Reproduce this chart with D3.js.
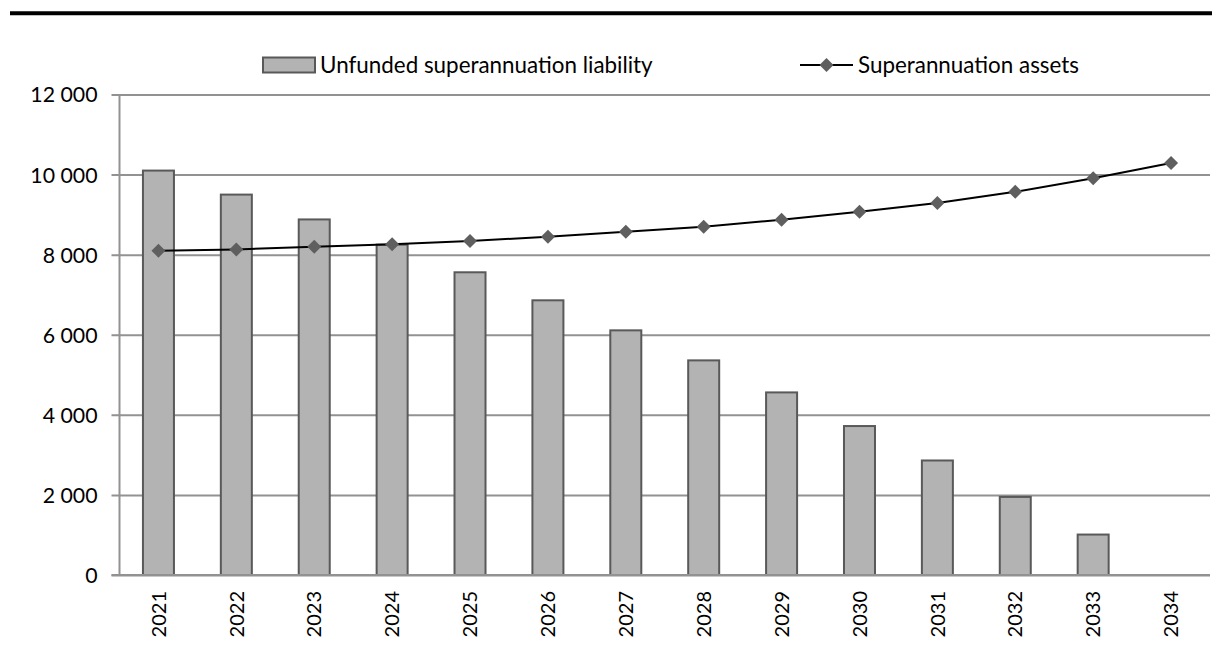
<!DOCTYPE html>
<html>
<head>
<meta charset="utf-8">
<script src="https://cdn.jsdelivr.net/npm/d3@7/dist/d3.min.js"></script>
<style>
  html, body { margin: 0; padding: 0; background: #fff; }
  svg { display: block; }
  text { font-family: Lato, "Open Sans", "DejaVu Sans", sans-serif; fill: #000; }
</style>
</head>
<body>
<svg id="chart" width="1212" height="659"></svg>
<script>
// Chart data
const years = ["2021", "2022", "2023", "2024", "2025", "2026", "2027",
               "2028", "2029", "2030", "2031", "2032", "2033", "2034"];
const unfundedLiability = [10100, 9500, 8880, 8250, 7560, 6860, 6110,
                           5360, 4560, 3720, 2860, 1950, 1010, 0];
const superAssets = [8100, 8130, 8200, 8260, 8340, 8450, 8570,
                     8700, 8870, 9070, 9290, 9570, 9910, 10290];
const yTicks = [0, 2000, 4000, 6000, 8000, 10000, 12000];
const seriesNames = ["Unfunded superannuation liability", "Superannuation assets"];

const svg = d3.select("#chart");
const plotLeft = 119.5, plotRight = 1210, plotTop = 94.5, plotBottom = 575;

// Header rule
svg.append("line")
  .attr("x1", 10).attr("x2", 1212)
  .attr("y1", 13.3).attr("y2", 13.3)
  .attr("stroke", "#000").attr("stroke-width", 4);

const xc = d3.scaleBand().domain(years).range([plotLeft, plotRight]);
const y = d3.scaleLinear().domain([0, 12000]).range([plotBottom, plotTop]);

// Gridlines with y ticks
const yAxis = d3.axisLeft(y).tickValues(yTicks).tickSize(-(plotRight - plotLeft)).tickSizeOuter(0)
  .tickFormat(v => d3.format(",")(v).replace(/,/g, " "));
const gy = svg.append("g").attr("transform", `translate(${plotLeft},0)`).call(yAxis);
gy.select(".domain").remove();
gy.selectAll(".tick line")
  .attr("x1", -8)
  .attr("stroke", "#929292").attr("stroke-width", 2);
gy.selectAll(".tick text")
  .attr("x", -22).attr("dy", "0.35em")
  .style("font-size", "21.3px")
  .style("font-family", "Lato, 'Open Sans', sans-serif")
  .attr("fill", "#000");

// Vertical axis line
svg.append("line")
  .attr("x1", plotLeft).attr("x2", plotLeft).attr("y1", plotTop).attr("y2", plotBottom)
  .attr("stroke", "#929292").attr("stroke-width", 2);

// Bars
svg.append("g").selectAll("rect")
  .data(years.map((yr, i) => ({ yr, v: unfundedLiability[i] })).filter(d => d.v > 0))
  .join("rect")
  .attr("x", d => xc(d.yr) + xc.bandwidth() / 2 - 15.5)
  .attr("width", 31)
  .attr("y", d => y(d.v))
  .attr("height", d => y(0) - y(d.v))
  .attr("fill", "#b3b3b3")
  .attr("stroke", "#595959").attr("stroke-width", 2);

// Horizontal axis line
svg.append("line")
  .attr("x1", plotLeft - 8).attr("x2", plotRight).attr("y1", plotBottom).attr("y2", plotBottom)
  .attr("stroke", "#929292").attr("stroke-width", 2);

// Year labels, rotated
const xAxis = d3.axisBottom(xc).tickSize(0).tickSizeOuter(0);
const gx = svg.append("g").attr("transform", `translate(0,${plotBottom})`).call(xAxis);
gx.select(".domain").remove();
gx.selectAll(".tick text")
  .attr("transform", "rotate(-90)")
  .attr("x", -16).attr("y", 0).attr("dy", "0.36em")
  .attr("text-anchor", "end")
  .style("font-size", "20px")
  .style("font-family", "Lato, 'Open Sans', sans-serif")
  .attr("fill", "#000");

// Assets line
const cx = yr => xc(yr) + xc.bandwidth() / 2;
const lineGen = d3.line().x((d, i) => cx(years[i])).y(d => y(d));
svg.append("path")
  .datum(superAssets)
  .attr("d", lineGen)
  .attr("fill", "none").attr("stroke", "#000").attr("stroke-width", 2);

const diamond = d3.symbol().type(d3.symbolSquare).size(98);
svg.append("g").selectAll("path")
  .data(superAssets)
  .join("path")
  .attr("d", diamond)
  .attr("transform", (d, i) => `translate(${cx(years[i])},${y(d)}) rotate(45)`)
  .attr("fill", "#5f5f5f");

// Legend
const legendFont = "22.4px";
const lg = svg.append("g");
lg.append("rect").attr("x", 263).attr("y", 57.5).attr("width", 52).attr("height", 15)
  .attr("fill", "#b3b3b3").attr("stroke", "#595959").attr("stroke-width", 2);
lg.append("text").attr("x", 320).attr("y", 65).attr("dy", "0.35em")
  .style("font-size", legendFont).text(seriesNames[0]);
lg.append("line").attr("x1", 800).attr("x2", 853).attr("y1", 65).attr("y2", 65)
  .attr("stroke", "#000").attr("stroke-width", 2);
lg.append("path").attr("d", diamond)
  .attr("transform", "translate(826.5,65) rotate(45)").attr("fill", "#5f5f5f");
lg.append("text").attr("x", 858).attr("y", 65).attr("dy", "0.35em")
  .style("font-size", legendFont).text(seriesNames[1]);
</script>
</body>
</html>
